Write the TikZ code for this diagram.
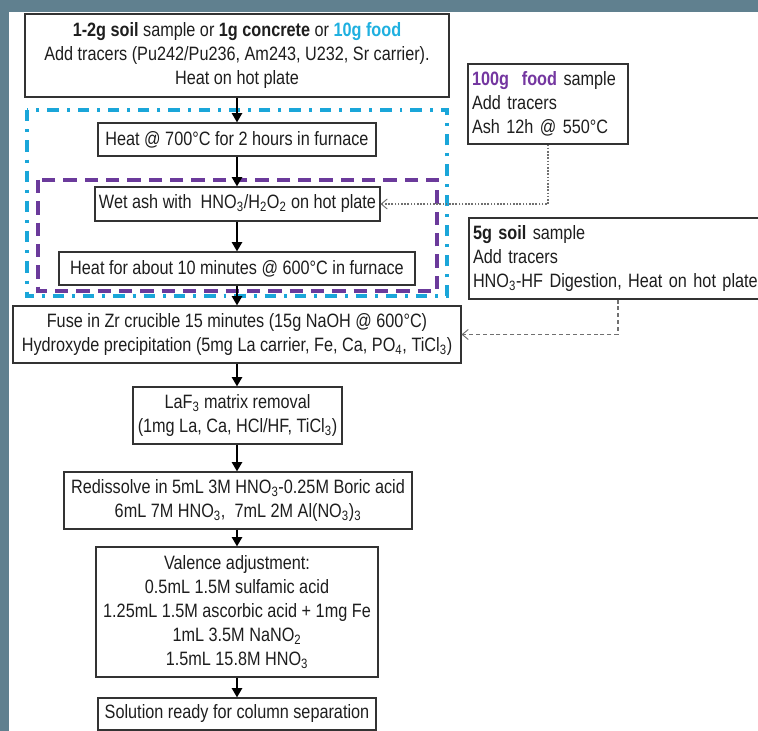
\documentclass[tikz,border=0pt]{standalone}
\usepackage{fontspec}
\setmainfont{Liberation Sans}[FakeStretch=0.84]
\usetikzlibrary{arrows.meta}
\definecolor{slate}{HTML}{60808F}
\definecolor{foodcyan}{HTML}{1FB0E0}
\definecolor{foodpurple}{HTML}{7436A0}
\definecolor{cyanline}{HTML}{1AA6D9}
\definecolor{purpline}{HTML}{6B3A9B}
\definecolor{boxgray}{HTML}{333333}
\definecolor{txt}{HTML}{1E1E1E}
\definecolor{conngray}{HTML}{707070}
\begin{document}
\begin{tikzpicture}[x=0.75pt,y=-0.75pt,
  box/.style={draw=boxgray, fill=white, line width=0.8pt, inner sep=0pt,
    align=center, font=\fontsize{14.5}{18}\selectfont, text=txt},
  leftbox/.style={box, align=left, inner xsep=3pt},
  flow/.style={draw=black, line width=1.8pt, -{Triangle[length=7pt,width=7.5pt]}},
  dotconn/.style={draw=conngray, line width=0.8pt, dash pattern=on 1.2pt off 1.2pt,
    -{Straight Barb[length=4.5pt,width=7.5pt,line width=0.7pt]}},
  dashconn/.style={draw=conngray, line width=0.8pt, dash pattern=on 3pt off 2.2pt,
    -{Straight Barb[length=4.5pt,width=7.5pt,line width=0.7pt]}},
  cyanrect/.style={draw=cyanline, line width=2.3pt, dash pattern=on 8.5pt off 6pt on 2.2pt off 6pt},
  purprect/.style={draw=purpline, line width=2.3pt, dash pattern=on 10pt off 6pt}
]
\useasboundingbox (0,0) rectangle (758,731);
\fill[white] (0,0) rectangle (758,731);
\fill[slate] (0,0) rectangle (758,12);
\fill[slate] (0,0) rectangle (9,731);

% group frames
\draw[cyanrect] (27,110) rectangle (447,296);
\draw[purprect] (38,180) rectangle (437,291);

% main column
\node[box, minimum width=318pt, minimum height=62.25pt] (top) at (237,55.5)
  {\textbf{1-2g soil} sample or \textbf{1g concrete} or \textcolor{foodcyan}{\textbf{10g food}}\\
   Add tracers (Pu242/Pu236, Am243, U232, Sr carrier).\\
   Heat on hot plate};
\node[box, minimum width=208.5pt, minimum height=24.75pt] (heat700) at (237,139.5)
  {Heat @ 700°C for 2 hours in furnace};
\node[box, minimum width=213.75pt, minimum height=25.5pt] (wetash) at (237.5,204)
  {Wet ash with\ \ HNO\textsubscript{3}/H\textsubscript{2}O\textsubscript{2} on hot plate};
\node[box, minimum width=267pt, minimum height=24.75pt] (heat10) at (237,268.5)
  {Heat for about 10 minutes @ 600°C in furnace};
\node[box, minimum width=336pt, minimum height=42.75pt] (fuse) at (237,334.5)
  {Fuse in Zr crucible 15 minutes (15g NaOH @ 600°C)\\
   Hydroxyde precipitation (5mg La carrier, Fe, Ca, PO\textsubscript{4}, TiCl\textsubscript{3})};
\node[box, minimum width=156.75pt, minimum height=42.75pt] (laf) at (237.5,415.5)
  {LaF\textsubscript{3} matrix removal\\(1mg La, Ca, HCl/HF, TiCl\textsubscript{3})};
\node[box, minimum width=261pt, minimum height=42.75pt] (redis) at (238,500.5)
  {Redissolve in 5mL 3M HNO\textsubscript{3}-0.25M Boric acid\\
   6mL 7M HNO\textsubscript{3},\ \ 7mL 2M Al(NO\textsubscript{3})\textsubscript{3}};
\node[box, minimum width=211.5pt, minimum height=97.5pt] (valence) at (237,612)
  {Valence adjustment:\\0.5mL 1.5M sulfamic acid\\1.25mL 1.5M ascorbic acid + 1mg Fe\\
   1mL 3.5M NaNO\textsubscript{2}\\1.5mL 15.8M HNO\textsubscript{3}};
\node[box, minimum width=208.5pt, minimum height=24pt] (solution) at (237,714)
  {Solution ready for column separation};

% side inputs
\node[leftbox, text width=114pt, minimum height=60pt] (food) at (548,104)
  {\textcolor{foodpurple}{\textbf{100g\ \ food}} sample\\Add tracers\\Ash 12h @ 550°C};
\node[leftbox, text width=223.5pt, minimum height=60.75pt] (soil) at (622,258.5)
  {\textbf{5g soil} sample\\Add tracers\\HNO\textsubscript{3}-HF Digestion, Heat on hot plate};

% flow arrows
\draw[flow] (top.south) -- (top.south |- heat700.north);
\draw[flow] (heat700.south) -- (heat700.south |- wetash.north);
\draw[flow] (heat700.south |- wetash.south) -- (heat700.south |- heat10.north);
\draw[flow] (heat10.south) -- (heat10.south |- fuse.north);
\draw[flow] (fuse.south) -- (fuse.south |- laf.north);
\draw[flow] (fuse.south |- laf.south) -- (fuse.south |- redis.north);
\draw[flow] (fuse.south |- redis.south) -- (fuse.south |- valence.north);
\draw[flow] (valence.south) -- (valence.south |- solution.north);

% side connectors
\draw[dotconn] (food.south) |- (wetash.east);
\draw[dashconn] ([xshift=-3pt]soil.south) |- (fuse.east);
\end{tikzpicture}
\end{document}
